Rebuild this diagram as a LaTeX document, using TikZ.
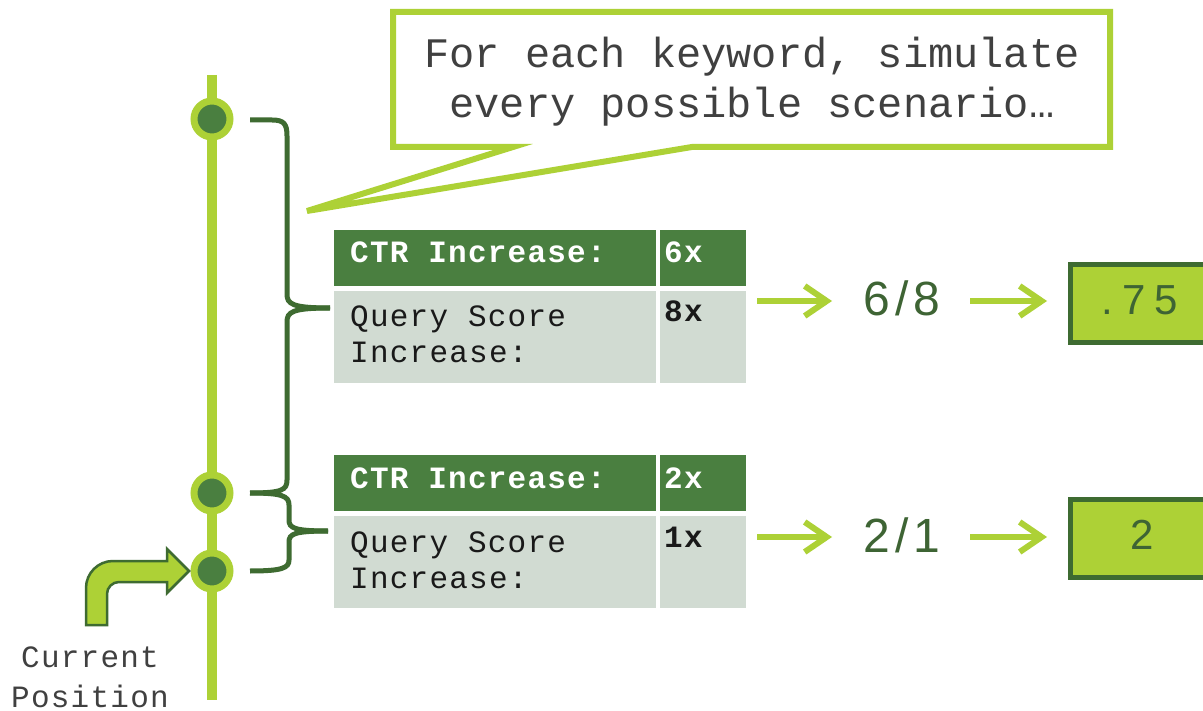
\documentclass[tikz,border=0pt]{standalone}
\usepackage{fontspec}
\setmainfont{Liberation Sans}
\newfontfamily\monotab[LetterSpace=4]{Liberation Mono}
\newfontfamily\monocall{Liberation Mono}
\newfontfamily\numf[LetterSpace=10]{Liberation Sans}
\newfontfamily\numg[LetterSpace=22]{Liberation Sans}
\usetikzlibrary{arrows.meta}
\definecolor{lg}{RGB}{173,209,54}
\definecolor{dg}{RGB}{74,127,64}
\definecolor{bg}{RGB}{62,107,49}
\definecolor{rowc}{RGB}{209,219,210}
\definecolor{txtg}{RGB}{64,64,64}
\definecolor{numc}{RGB}{62,100,52}
\tikzset{
  dot/.style={circle, draw=lg, line width=7pt, fill=dg, minimum size=36pt, inner sep=0pt},
  bracebar/.style={draw=bg, line width=5pt},
  hdrcell/.style={fill=dg, draw=none, anchor=north west, inner sep=0pt},
  rowcell/.style={fill=rowc, draw=none, anchor=north west, inner sep=0pt},
  hdrtxt/.style={text=white, font=\monotab\bfseries\fontsize{31}{36}\selectfont, anchor=base west, inner sep=0pt},
  rowtxt/.style={text=black!90, font=\monotab\fontsize{31}{36}\selectfont, anchor=base west, inner sep=0pt, align=left},
  garrow/.style={draw=lg, line width=6pt, -{Straight Barb[length=22pt,width=30pt,line width=6pt]}},
  fractxt/.style={text=numc, font=\numf\fontsize{48}{56}\selectfont, inner sep=0pt},
  resbox/.style={fill=lg, draw=bg, line width=5pt, anchor=north west, inner sep=0pt},
  restxt/.style={text=numc, font=\numg\fontsize{42}{50}\selectfont, inner sep=0pt},
}
\begin{document}
\begin{tikzpicture}[x=1pt,y=-1pt]
\useasboundingbox (0,0) rectangle (1203,711);
\clip (0,0) rectangle (1203,711);
\fill[white] (0,0) rectangle (1203,711);

% timeline
\draw[lg, line width=10pt] (212,75) -- (212,700);
\node[dot] (d1) at (212,119) {};
\node[dot] (d2) at (212,493) {};
\node[dot] (d3) at (212,571) {};

% braces
\coordinate (p1) at (330,308);
\coordinate (p2) at (328,531);
\draw[bracebar] (250,120) -- (272,120) .. controls (284,120) and (287,124) .. (287,136) -- (287,294)
  .. controls (287,304) and (292,308) .. (p1);
\draw[bracebar] (p1) .. controls (292,308) and (287,312) .. (287,322) -- (287,480)
  .. controls (287,490) and (282,493) .. (250,493);
\draw[bracebar] (250,493) .. controls (282,493) and (289,496) .. (289,505) -- (289,520)
  .. controls (289,528) and (294,531) .. (p2);
\draw[bracebar] (p2) .. controls (294,531) and (289,534) .. (289,542) -- (289,560)
  .. controls (289,568) and (282,571) .. (250,571);

% callout
\draw[lg, line width=6pt, fill=white, line join=miter]
  (393,12) -- (1110,12) -- (1110,147) -- (692,147) -- (307,211) -- (513,147) -- (393,147) -- cycle;
\node[text=txtg, font=\monocall\fontsize{42}{50}\selectfont, align=center, anchor=base, inner sep=0pt] (call) at (752,118)
  {For each keyword, simulate\\every possible scenario…};

% table 1
\node[hdrcell, minimum width=322pt, minimum height=56pt] (h1a) at (334,230) {};
\node[hdrcell, minimum width=86pt, minimum height=56pt] (h1b) at (660,230) {};
\node[rowcell, minimum width=322pt, minimum height=92pt] (r1a) at (334,291) {};
\node[rowcell, minimum width=86pt, minimum height=92pt] (r1b) at (660,291) {};
\node[hdrtxt] (t1a) at (350,263) {CTR Increase:};
\node[hdrtxt] (t1b) at (664,263) {6x};
\node[rowtxt] (u1a) at (350,327) {Query Score};
\node[rowtxt] (v1a) at (350,363) {Increase:};
\node[rowtxt, font=\monotab\bfseries\fontsize{31}{36}\selectfont] (u1b) at (664,322) {8x};

% table 2
\node[hdrcell, minimum width=322pt, minimum height=56pt] (h2a) at (334,455) {};
\node[hdrcell, minimum width=86pt, minimum height=56pt] (h2b) at (660,455) {};
\node[rowcell, minimum width=322pt, minimum height=92pt] (r2a) at (334,516) {};
\node[rowcell, minimum width=86pt, minimum height=92pt] (r2b) at (660,516) {};
\node[hdrtxt] (t2a) at (350,488) {CTR Increase:};
\node[hdrtxt] (t2b) at (664,488) {2x};
\node[rowtxt] (u2a) at (350,552) {Query Score};
\node[rowtxt] (v2a) at (350,588) {Increase:};
\node[rowtxt, font=\monotab\bfseries\fontsize{31}{36}\selectfont] (u2b) at (664,547) {1x};

% results row 1
\node[fractxt] (f1) at (902,298) {6/8};
\node[resbox, minimum width=150pt, minimum height=78pt] (b1) at (1068,262) {};
\node[restxt, anchor=west] (x1) at (1101,300) {.75};
\coordinate (a1s) at (757,301);
\coordinate (a1e) at (832,301);
\coordinate (a2s) at (970,301);
\coordinate (a2e) at (1047,301);
\draw[garrow] (a1s) -- (a1e);
\draw[garrow] (a2s) -- (a2e);

% results row 2
\node[fractxt] (f2) at (902,535) {2/1};
\node[resbox, minimum width=150pt, minimum height=78pt] (b2) at (1068,497) {};
\node[restxt] (x2) at (1142,535) {2};
\coordinate (a3s) at (757,537);
\coordinate (a3e) at (832,537);
\coordinate (a4s) at (970,537);
\coordinate (a4e) at (1047,537);
\draw[garrow] (a3s) -- (a3e);
\draw[garrow] (a4s) -- (a4e);

% current position bent arrow
\draw[fill=lg, draw=bg, line width=2.5pt, line join=miter]
  (86,625) -- (86,588) arc[start angle=180, end angle=270, radius=27] -- (167,561) -- (167,549)
  -- (189,571) -- (167,593) -- (167,582) -- (119,582)
  arc[start angle=270, end angle=180, radius=12] -- (107,625) -- cycle;
\node[text=txtg, font=\monotab\fontsize{31}{40}\selectfont, align=center, anchor=base, inner sep=0pt] (cur) at (90,707)
  {Current\\Position};
\end{tikzpicture}
\end{document}
